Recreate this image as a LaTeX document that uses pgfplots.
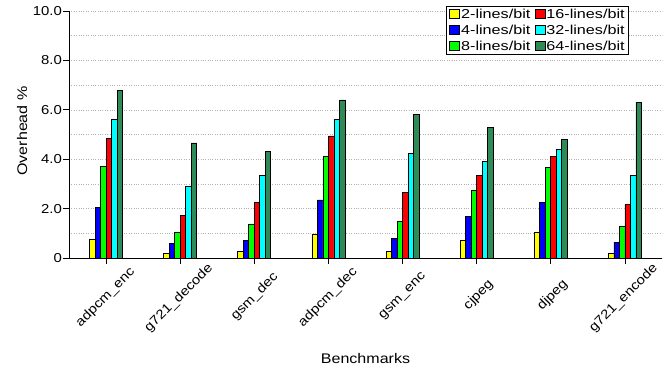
\documentclass[border=0pt]{standalone}
\usepackage{fontspec}
\setmainfont{Liberation Sans}[FakeStretch=1.15]
\newfontfamily\legfont{Liberation Sans}[FakeStretch=1.25]
\usepackage{pgfplots}
\pgfplotsset{compat=1.18}
\definecolor{dkgreen}{RGB}{46,139,87}
\definecolor{cY}{RGB}{255,255,0}
\definecolor{cB}{RGB}{0,0,255}
\definecolor{cG}{RGB}{0,255,0}
\definecolor{cR}{RGB}{255,0,0}
\definecolor{cC}{RGB}{0,255,255}
\newcommand\lab[1]{\makebox[0.58\width][l]{#1}}
\begin{document}
\begin{tikzpicture}
\begin{axis}[
  scale only axis, width=593bp, height=247bp,
  ybar=0pt, bar width=5.5bp,
  ymin=0, ymax=10, xmin=-0.5, xmax=7.5,
  axis x line*=bottom, axis y line*=left,
  axis line style={-, black, line width=0.8bp},
  tick align=outside, major tick length=6bp, minor tick length=0pt,
  tick style={black, line width=0.8bp},
  xtick={0,...,7},
  xticklabels={\lab{adpcm\_enc},\lab{g721\_decode},\lab{gsm\_dec},\lab{adpcm\_dec},\lab{gsm\_enc},\lab{cjpeg},\lab{djpeg},\lab{g721\_encode}},
  x tick label style={xshift=4bp, yshift=-29bp, rotate=45, anchor=east, inner sep=0pt},
  y tick label style={inner sep=1bp},
  ytick={0,2,4,6,8,10},
  yticklabels={0,2.0,4.0,6.0,8.0,10.0},
  minor ytick={1,3,5,7,9},
  ymajorgrids, yminorgrids,
  major grid style={dotted, gray!60, line width=0.6bp},
  minor grid style={dotted, gray!60, line width=0.6bp},
  tick label style={font=\fontsize{13}{15}\selectfont},
  ylabel={Overhead \%}, xlabel={Benchmarks},
  every axis y label/.style={at={(rel axis cs:-0.0708,0.514)}, rotate=90, anchor=base, font=\fontsize{14}{16}\selectfont},
  every axis x label/.style={at={(rel axis cs:0.5,-0.429)}, anchor=base, font=\fontsize{14}{16}\selectfont},
  every axis plot/.append style={draw=black, line width=0.8bp},
  legend columns=3, transpose legend,
  legend style={at={(rel axis cs:0.944,1.0202)}, anchor=north east, draw=black, line width=0.8bp,
    font=\legfont\fontsize{13}{15}\selectfont, inner xsep=2.5bp, inner ysep=1.5bp, row sep=2.5bp,
    nodes={inner sep=1.2bp},
    /tikz/every even column/.append style={column sep=3bp},
    cells={anchor=west}},
  legend image code/.code={\draw[#1, line width=0.6bp] (0bp,-4bp) rectangle (10bp,5bp);},
]
\addplot[fill=cY] coordinates {(0,0.77) (1,0.20) (2,0.26) (3,0.97) (4,0.27) (5,0.70) (6,1.03) (7,0.20)};
\addplot[fill=cB] coordinates {(0,2.05) (1,0.58) (2,0.72) (3,2.35) (4,0.78) (5,1.68) (6,2.26) (7,0.64)};
\addplot[fill=cG] coordinates {(0,3.70) (1,1.03) (2,1.38) (3,4.11) (4,1.49) (5,2.74) (6,3.68) (7,1.26)};
\addplot[fill=cR] coordinates {(0,4.83) (1,1.72) (2,2.26) (3,4.94) (4,2.67) (5,3.33) (6,4.12) (7,2.17)};
\addplot[fill=cC] coordinates {(0,5.61) (1,2.90) (2,3.34) (3,5.62) (4,4.23) (5,3.92) (6,4.40) (7,3.36)};
\addplot[fill=dkgreen] coordinates {(0,6.78) (1,4.66) (2,4.32) (3,6.40) (4,5.81) (5,5.29) (6,4.79) (7,6.28)};
\legend{2-lines/bit,4-lines/bit,8-lines/bit,16-lines/bit,32-lines/bit,64-lines/bit}
\coordinate (ll) at (rel axis cs:0,0);
\coordinate (ur) at (rel axis cs:1,1);
\end{axis}
\pgfresetboundingbox
\useasboundingbox ([shift={(-69bp,-115bp)}]ll) rectangle ([shift={(10bp,11bp)}]ur);
\end{tikzpicture}
\end{document}
